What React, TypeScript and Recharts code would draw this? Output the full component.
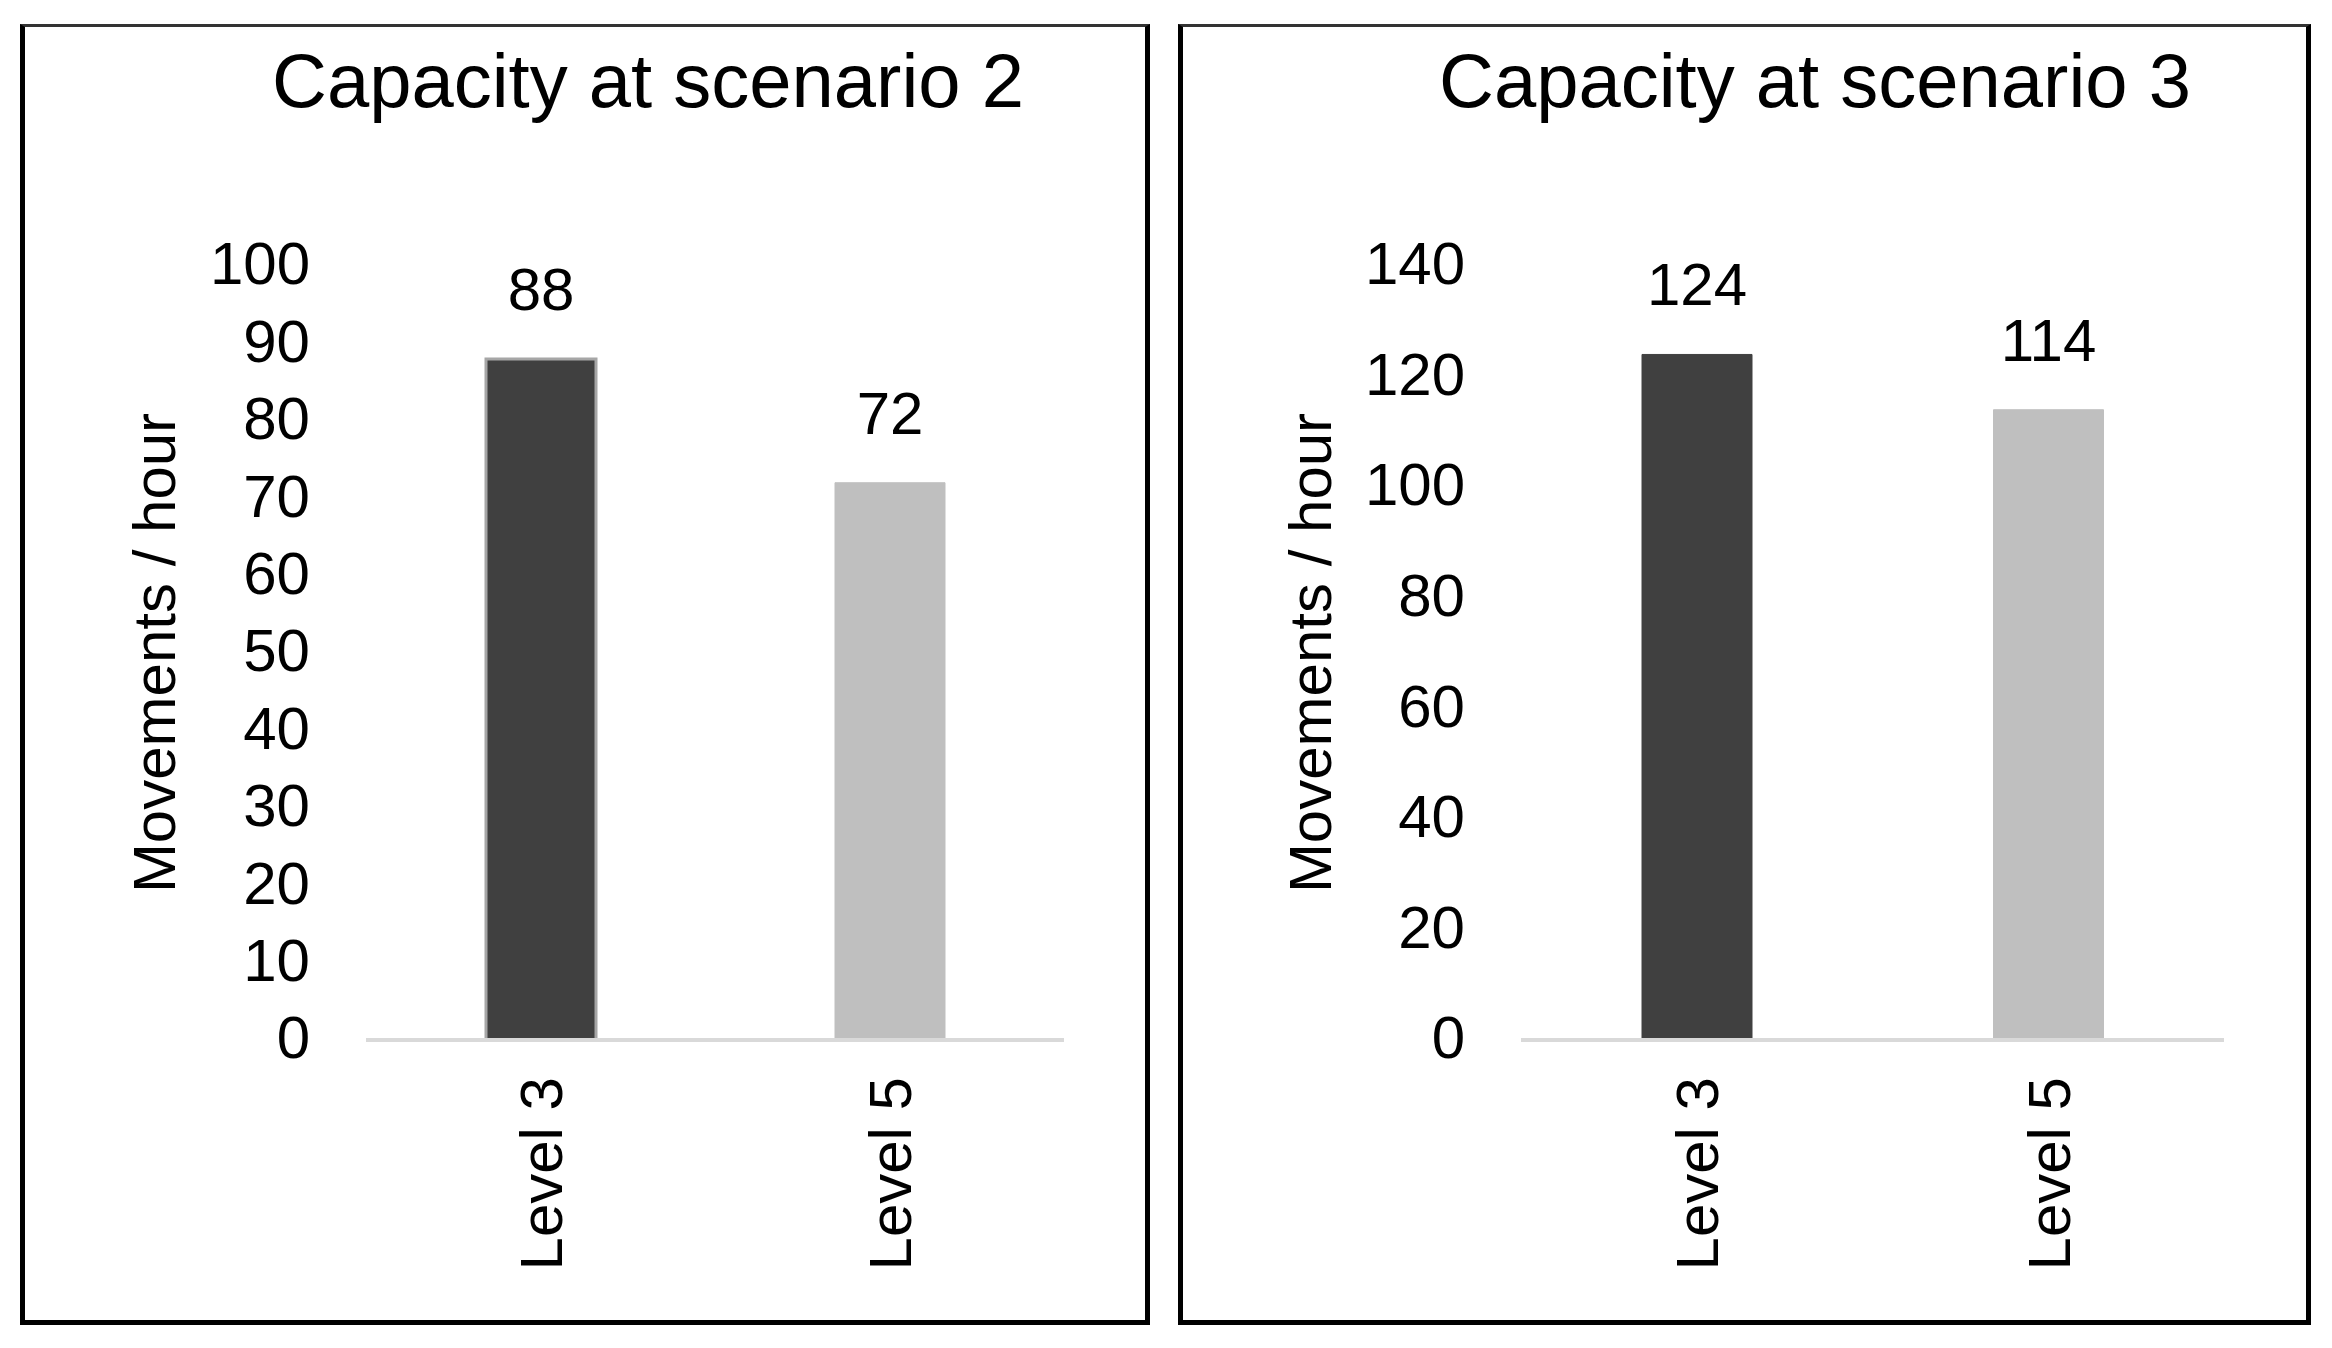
import React from "react"
import { BarChart, Bar, XAxis, YAxis, Cell, LabelList } from "recharts"

const categories = ["Level 3", "Level 5"]
const scenario2Values = [88, 72]
const scenario3Values = [124, 114]
const scenario2Ticks = [0, 10, 20, 30, 40, 50, 60, 70, 80, 90, 100]
const scenario3Ticks = [0, 20, 40, 60, 80, 100, 120, 140]
const barColors = ["#404040", "#bfbfbf"]
const yAxisTitle = "Movements / hour"

const FONT = "'Liberation Sans', Arial, sans-serif"

function LevelTick({ x, y, payload }: any) {
  return (
    <text
      x={x}
      y={y}
      transform={`rotate(-90 ${x} ${y})`}
      textAnchor="end"
      dy="0.355em"
      fontSize={60}
      fill="#000"
    >
      {payload.value}
    </text>
  )
}

interface PanelProps {
  title: string
  values: number[]
  ticks: number[]
  left: number
  width: number
  titleCenter: number
  marginLeft: number
  axisWidth: number
  marginRight: number
  outlineFirst?: boolean
}

function Panel({ title, values, ticks, left, width, titleCenter, marginLeft, axisWidth, marginRight, outlineFirst }: PanelProps) {
  const data = categories.map((name, i) => ({ name, value: values[i] }))
  return (
    <>
      <div
        style={{
          position: "absolute",
          left,
          top: 24,
          width,
          height: 1301,
          boxSizing: "border-box",
          borderTop: "3px solid #333",
          borderLeft: "5px solid #000",
          borderRight: "5px solid #000",
          borderBottom: "5px solid #000",
        }}
      />
      <div
        style={{
          position: "absolute",
          left: titleCenter - 600,
          top: 43,
          width: 1200,
          textAlign: "center",
          fontSize: 76,
          lineHeight: 1,
          color: "#000",
          whiteSpace: "nowrap",
        }}
      >
        {title}
      </div>
      <div style={{ position: "absolute", left, top: 0 }}>
        <BarChart
          width={width}
          height={1348}
          data={data}
          margin={{ top: 266, right: marginRight, bottom: 58, left: marginLeft }}
        >
          <XAxis
            dataKey="name"
            height={250}
            tickLine={false}
            tickSize={0}
            tickMargin={37}
            axisLine={{ stroke: "#d9d9d9", strokeWidth: 4 }}
            tick={(p: any) => <LevelTick {...p} />}
            interval={0}
          />
          <YAxis
            width={axisWidth}
            domain={[0, ticks[ticks.length - 1]]}
            ticks={ticks}
            interval={0}
            axisLine={false}
            tickLine={false}
            tickSize={0}
            tickMargin={56}
            tick={{ fontSize: 60, fill: "#000", dy: -3 }}
            label={{
              value: yAxisTitle,
              angle: -90,
              position: "insideLeft",
              offset: 5,
              fontSize: 60,
              fill: "#000",
              style: { textAnchor: "middle" },
            }}
          />
          <Bar dataKey="value" barSize={110} isAnimationActive={false}>
            {data.map((d, i) => (
              <Cell
                key={d.name}
                fill={barColors[i]}
                stroke={outlineFirst && i === 0 ? "#a6a6a6" : barColors[i]}
                strokeWidth={outlineFirst && i === 0 ? 3 : 1}
              />
            ))}
            <LabelList dataKey="value" position="top" offset={49} fill="#000" fontSize={60} />
          </Bar>
        </BarChart>
      </div>
    </>
  )
}

export default function App() {
  return (
    <div
      style={{
        position: "absolute",
        left: 0,
        top: 0,
        width: 2332,
        height: 1348,
        background: "#fff",
        fontFamily: FONT,
      }}
    >
      <Panel
        title="Capacity at scenario 2"
        values={scenario2Values}
        ticks={scenario2Ticks}
        left={20}
        width={1130}
        titleCenter={648}
        marginLeft={129}
        axisWidth={217}
        marginRight={86}
        outlineFirst
      />
      <Panel
        title="Capacity at scenario 3"
        values={scenario3Values}
        ticks={scenario3Ticks}
        left={1178}
        width={1133}
        titleCenter={1815}
        marginLeft={127}
        axisWidth={216}
        marginRight={87}
      />
    </div>
  )
}
